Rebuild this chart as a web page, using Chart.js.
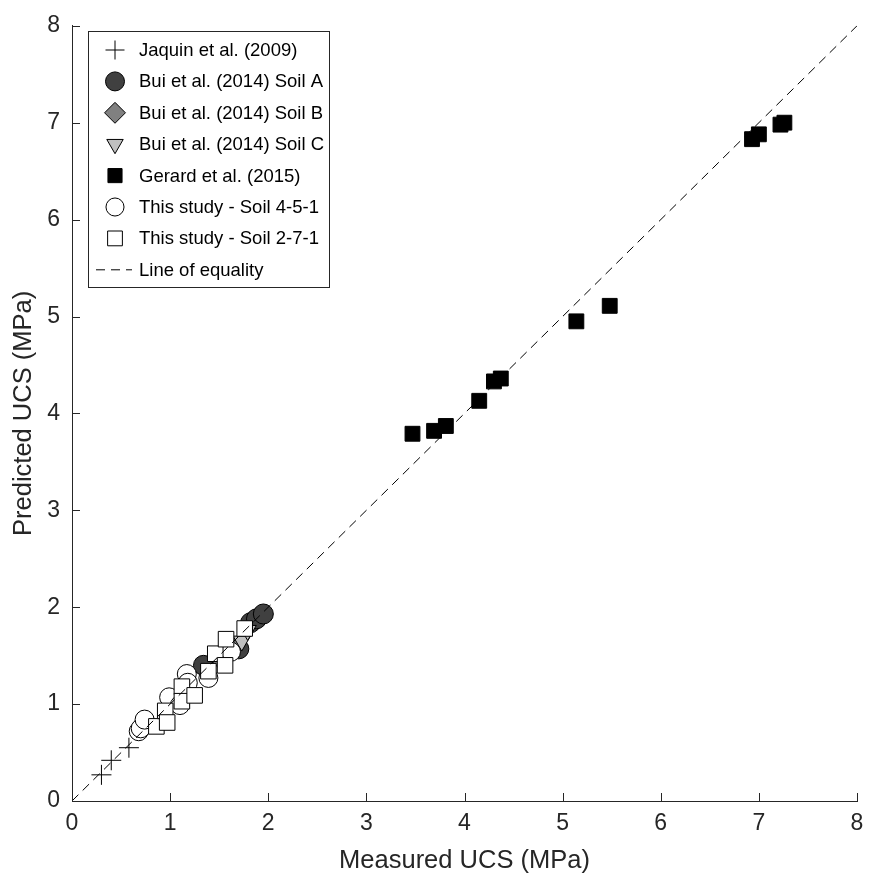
<!DOCTYPE html>
<html>
<head>
<meta charset="utf-8">
<script src="https://cdn.jsdelivr.net/npm/chart.js@4.4.1/dist/chart.umd.min.js"></script>
<style>
  html, body { margin: 0; padding: 0; background: #fff; }
  #wrap { width: 873px; height: 890px; }
</style>
</head>
<body>
<div id="wrap"><canvas id="myChart" width="873" height="890"></canvas></div>
<script>
// data (MPa)
const jaquinX = [0.30, 0.40, 0.58];
const jaquinY = [0.27, 0.42, 0.55];

const soilAX = [1.34, 1.62, 1.70, 1.82, 1.88, 1.95];
const soilAY = [1.40, 1.56, 1.57, 1.84, 1.88, 1.93];

const soilBX = [1.12, 1.50, 1.62];
const soilBY = [1.08, 1.48, 1.60];

const soilCX = [1.73, 1.79];
const soilCY = [1.65, 1.76];

const gerardX = [3.47, 3.69, 3.81, 4.15, 4.30, 4.37, 5.14, 5.48, 6.93, 7.00, 7.22, 7.26];
const gerardY = [3.79, 3.82, 3.87, 4.13, 4.33, 4.36, 4.95, 5.11, 6.83, 6.88, 6.98, 7.00];

const s451X = [0.68, 0.72, 0.70, 0.74, 0.99, 1.10, 1.17, 1.18, 1.39, 1.62];
const s451Y = [0.72, 0.77, 0.75, 0.84, 1.07, 0.99, 1.31, 1.22, 1.27, 1.54];

const s271X = [0.86, 0.95, 0.97, 1.12, 1.12, 1.25, 1.39, 1.46, 1.56, 1.57, 1.76];
const s271Y = [0.77, 0.93, 0.81, 1.18, 1.03, 1.09, 1.34, 1.52, 1.40, 1.67, 1.78];

const equalityX = [0, 8];
const equalityY = [0, 8];

const axisTicks = [0, 1, 2, 3, 4, 5, 6, 7, 8];

const toPoints = (xs, ys) => xs.map((x, i) => ({ x: x, y: ys[i] }));

const FONT = "'Liberation Sans', Arial, Helvetica, sans-serif";
const AXIS_COLOR = "#262626";

// inward tick marks (MATLAB style)
const innerTicks = {
  id: "innerTicks",
  afterDatasetsDraw(chart) {
    const ctx = chart.ctx;
    const xs = chart.scales.x;
    const ys = chart.scales.y;
    const a = chart.chartArea;
    ctx.save();
    ctx.strokeStyle = AXIS_COLOR;
    ctx.lineWidth = 1;
    ctx.beginPath();
    axisTicks.forEach((t) => {
      const px = Math.round(xs.getPixelForValue(t)) + 0.5;
      ctx.moveTo(px, a.bottom);
      ctx.lineTo(px, a.bottom - 8);
      const py = Math.round(ys.getPixelForValue(t)) + 0.5;
      ctx.moveTo(a.left, py);
      ctx.lineTo(a.left + 8, py);
    });
    ctx.stroke();
    ctx.restore();
  },
};

// legend box inside the plot, top-left
const boxLegend = {
  id: "boxLegend",
  afterDraw(chart) {
    const ctx = chart.ctx;
    const left = 88, top = 31, w = 241, h = 256;
    const rowH = 31.4, firstY = 50;
    ctx.save();
    ctx.fillStyle = "#fff";
    ctx.fillRect(left, top, w, h);
    ctx.strokeStyle = AXIS_COLOR;
    ctx.lineWidth = 1;
    ctx.strokeRect(left + 0.5, top + 0.5, w, h);
    ctx.font = "18.5px " + FONT;
    ctx.textBaseline = "middle";
    ctx.textAlign = "left";
    chart.data.datasets.forEach((ds, i) => {
      const y = firstY + i * rowH;
      const mx = 115;
      ctx.save();
      if (ds.type === "line") {
        ctx.strokeStyle = ds.borderColor;
        ctx.lineWidth = ds.borderWidth;
        ctx.setLineDash(ds.borderDash);
        ctx.beginPath();
        ctx.moveTo(96, y);
        ctx.lineTo(132, y);
        ctx.stroke();
      } else {
        ctx.fillStyle = ds.backgroundColor;
        ctx.strokeStyle = ds.borderColor;
        ctx.lineWidth = ds.borderWidth;
        Chart.helpers.drawPoint(ctx, {
          pointStyle: ds.pointStyle,
          rotation: ds.rotation || 0,
          radius: ds.pointRadius * 0.95,
          borderWidth: ds.borderWidth,
        }, mx, y);
      }
      ctx.restore();
      ctx.fillStyle = "#000";
      ctx.fillText(ds.label, 139, y + 1);
    });
    ctx.restore();
  },
};

const ctx = document.getElementById("myChart");

new Chart(ctx, {
  type: "scatter",
  data: {
    datasets: [
      {
        label: "Jaquin et al. (2009)",
        data: toPoints(jaquinX, jaquinY),
        pointStyle: "cross",
        pointRadius: 10,
        backgroundColor: "#000",
        borderColor: "#000",
        borderWidth: 1,
        order: 8,
      },
      {
        label: "Bui et al. (2014) Soil A",
        data: toPoints(soilAX, soilAY),
        pointStyle: "circle",
        pointRadius: 10,
        backgroundColor: "#404040",
        borderColor: "#000",
        borderWidth: 1,
        order: 7,
      },
      {
        label: "Bui et al. (2014) Soil B",
        data: toPoints(soilBX, soilBY),
        pointStyle: "rectRot",
        pointRadius: 11,
        backgroundColor: "#808080",
        borderColor: "#000",
        borderWidth: 1,
        order: 6,
      },
      {
        label: "Bui et al. (2014) Soil C",
        data: toPoints(soilCX, soilCY),
        pointStyle: "triangle",
        rotation: 180,
        pointRadius: 10,
        backgroundColor: "#c0c0c0",
        borderColor: "#000",
        borderWidth: 1,
        order: 5,
      },
      {
        label: "Gerard et al. (2015)",
        data: toPoints(gerardX, gerardY),
        pointStyle: "rect",
        pointRadius: 10.5,
        backgroundColor: "#000",
        borderColor: "#000",
        borderWidth: 1,
        order: 4,
      },
      {
        label: "This study - Soil 4-5-1",
        data: toPoints(s451X, s451Y),
        pointStyle: "circle",
        pointRadius: 9.5,
        backgroundColor: "#fff",
        borderColor: "#000",
        borderWidth: 1,
        order: 3,
      },
      {
        label: "This study - Soil 2-7-1",
        data: toPoints(s271X, s271Y),
        pointStyle: "rect",
        pointRadius: 11,
        backgroundColor: "#fff",
        borderColor: "#000",
        borderWidth: 1,
        order: 2,
      },
      {
        type: "line",
        label: "Line of equality",
        data: toPoints(equalityX, equalityY),
        borderColor: "#000",
        borderWidth: 1,
        borderDash: [9, 6],
        pointRadius: 0,
        fill: false,
        order: 1,
      },
    ],
  },
  options: {
    responsive: false,
    animation: false,
    events: [],
    layout: { padding: { top: 17, right: 16, left: 0, bottom: 0 } },
    plugins: {
      legend: { display: false },
      tooltip: { enabled: false },
    },
    scales: {
      x: {
        type: "linear",
        min: 0,
        max: 8,
        afterFit: (scale) => { scale.height = 89; },
        afterBuildTicks: (scale) => { scale.ticks = axisTicks.map((v) => ({ value: v })); },
        grid: { display: true, drawOnChartArea: false, drawTicks: false, color: AXIS_COLOR },
        border: { display: true, color: AXIS_COLOR, width: 1 },
        ticks: { color: AXIS_COLOR, padding: 9, font: { family: FONT, size: 23 } },
        title: {
          display: true,
          text: "Measured UCS (MPa)",
          color: AXIS_COLOR,
          font: { family: FONT, size: 25.5 },
          padding: { top: 0, bottom: 14 },
        },
      },
      y: {
        type: "linear",
        min: 0,
        max: 8,
        afterFit: (scale) => { scale.width = 72; },
        afterBuildTicks: (scale) => { scale.ticks = axisTicks.map((v) => ({ value: v })); },
        grid: { display: true, drawOnChartArea: false, drawTicks: false, color: AXIS_COLOR },
        border: { display: true, color: AXIS_COLOR, width: 1 },
        ticks: { color: AXIS_COLOR, padding: 12, font: { family: FONT, size: 23 } },
        title: {
          display: true,
          text: "Predicted UCS (MPa)",
          color: AXIS_COLOR,
          font: { family: FONT, size: 25.5 },
          padding: { top: 9, bottom: 0 },
        },
      },
    },
  },
  plugins: [innerTicks, boxLegend],
});
</script>
</body>
</html>
